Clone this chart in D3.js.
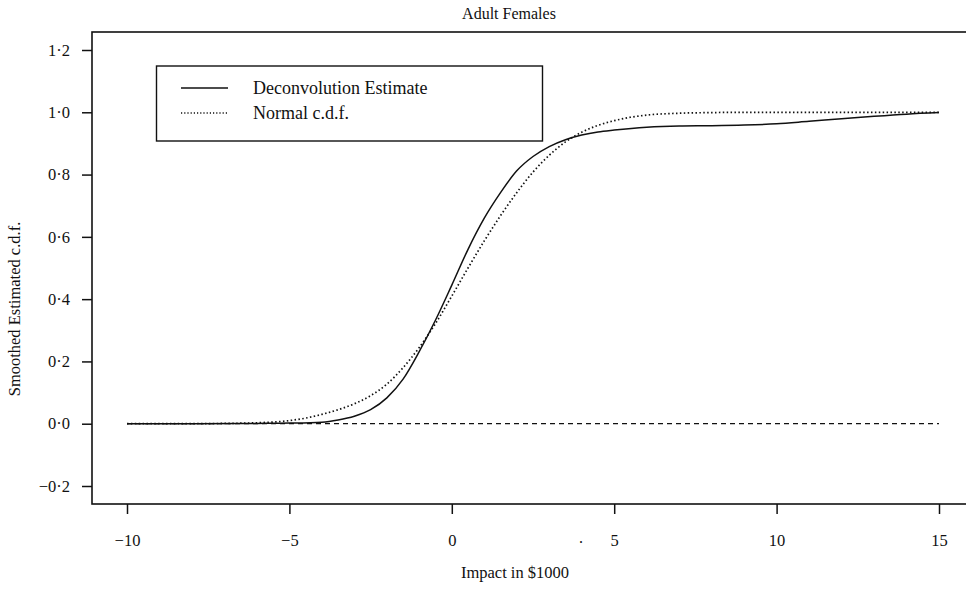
<!DOCTYPE html>
<html>
<head>
<meta charset="utf-8">
<script src="https://cdn.jsdelivr.net/npm/d3@7"></script>
<style>
  body { margin: 0; background: #fff; }
  svg { display: block; font-family: "Liberation Serif", "DejaVu Serif", serif; }
</style>
</head>
<body>
<div id="chart"></div>
<script>
// readings (impact in $1000, smoothed c.d.f.)
var deconX = [-10, -8, -6, -5, -4, -3.5, -3, -2.5, -2, -1.5, -1, -0.5, 0, 0.5, 1, 1.5, 2, 2.5, 3, 3.5, 4, 4.5, 5, 6, 7, 8, 9, 10, 11, 12, 13, 14, 15];
var deconY = [0, 0, 0.001, 0.002, 0.005, 0.012, 0.024, 0.045, 0.083, 0.143, 0.232, 0.333, 0.445, 0.56, 0.66, 0.742, 0.812, 0.858, 0.89, 0.912, 0.927, 0.937, 0.943, 0.952, 0.956, 0.957, 0.959, 0.963, 0.971, 0.979, 0.987, 0.994, 0.999];

var normX = [-10, -8, -7, -6, -5, -4.5, -4, -3.5, -3, -2.5, -2, -1.5, -1, -0.5, 0, 0.5, 1, 1.5, 2, 2.5, 3, 3.5, 4, 4.5, 5, 5.5, 6, 7, 8, 9, 10, 12, 15];
var normY = [0, 0, 0.001, 0.003, 0.01, 0.018, 0.03, 0.045, 0.064, 0.09, 0.127, 0.18, 0.245, 0.322, 0.41, 0.5, 0.587, 0.668, 0.742, 0.808, 0.862, 0.905, 0.936, 0.958, 0.973, 0.984, 0.991, 0.997, 0.999, 1, 1, 1, 1];

var zeroX = [-10, 15];
var zeroY = [0, 0];

var xTicks = [-10, -5, 0, 5, 10, 15];
var yTicks = [-0.2, 0, 0.2, 0.4, 0.6, 0.8, 1.0, 1.2];
var legendLabels = ["Deconvolution Estimate", "Normal c.d.f."];

function zip(a, b) { return a.map(function(v, i) { return [v, b[i]]; }); }

var width = 966, height = 594;

var svg = d3.select('#chart')
  .append('svg')
  .attr('width', width)
  .attr('height', height);

var x = d3.scaleLinear().domain([-10, 15]).range([127, 939]);
var y = d3.scaleLinear().domain([-0.2, 1.2]).range([486, 50]);

// frame (right side runs off the page)
svg.append('rect')
  .attr('x', 92).attr('y', 32)
  .attr('width', 900).attr('height', 472)
  .attr('fill', 'none')
  .attr('stroke', '#111')
  .attr('stroke-width', 1.6);

function fmt(d) {
  var s = d3.format('.1f')(Math.abs(d)).replace('.', '\u00b7');
  return (d < 0 ? '\u2212' : '') + s;
}

var yAxis = svg.append('g')
  .attr('transform', 'translate(92,0)')
  .call(d3.axisLeft(y).tickValues(yTicks).tickFormat(fmt).tickSize(10).tickPadding(12));

var xAxis = svg.append('g')
  .attr('transform', 'translate(0,504)')
  .call(d3.axisBottom(x).tickValues(xTicks)
    .tickFormat(function(d) { return d < 0 ? '\u2212' + Math.abs(d) : d; })
    .tickSize(10).tickPadding(20));

[yAxis, xAxis].forEach(function(g) {
  g.select('.domain').remove();
  g.selectAll('line').attr('stroke', '#111').attr('stroke-width', 1.5);
  g.selectAll('text')
    .attr('fill', '#111')
    .style('font-family', '"Liberation Serif", serif')
    .style('font-size', '16.5px');
});

var line = d3.line()
  .x(function(d) { return x(d[0]); })
  .y(function(d) { return y(d[1]); })
  .curve(d3.curveMonotoneX);

svg.append('path')
  .attr('d', line(zip(zeroX, zeroY)))
  .attr('fill', 'none')
  .attr('stroke', '#111')
  .attr('stroke-width', 1.2)
  .attr('stroke-dasharray', '5,4');

svg.append('path')
  .attr('d', line(zip(normX, normY)))
  .attr('fill', 'none')
  .attr('stroke', '#111')
  .attr('stroke-width', 1.7)
  .attr('stroke-dasharray', '1.5,2.4');

svg.append('path')
  .attr('d', line(zip(deconX, deconY)))
  .attr('fill', 'none')
  .attr('stroke', '#111')
  .attr('stroke-width', 1.5);

// legend
var legend = svg.append('g');
legend.append('rect')
  .attr('x', 156.5).attr('y', 66)
  .attr('width', 386).attr('height', 75)
  .attr('fill', '#fff')
  .attr('stroke', '#111')
  .attr('stroke-width', 1.4);

var item = legend.selectAll('.legend')
  .data(legendLabels)
  .enter()
  .append('g')
  .attr('class', 'legend')
  .attr('transform', function(d, i) { return 'translate(0,' + (88 + i * 25) + ')'; });

item.append('line')
  .attr('x1', 181).attr('x2', 228)
  .attr('stroke', '#111')
  .attr('stroke-width', function(d, i) { return i ? 1.3 : 1.5; })
  .attr('stroke-dasharray', function(d, i) { return i ? '1.2,2' : null; });

item.append('text')
  .attr('x', 253)
  .attr('dy', '.35em')
  .attr('fill', '#111')
  .style('font-size', '18px')
  .text(function(d) { return d; });

// titles
svg.append('text')
  .attr('x', 509).attr('y', 19)
  .attr('text-anchor', 'middle')
  .style('font-size', '16px')
  .attr('fill', '#111')
  .text('Adult Females');

svg.append('text')
  .attr('x', 515).attr('y', 578)
  .attr('text-anchor', 'middle')
  .style('font-size', '16.5px')
  .attr('fill', '#111')
  .text('Impact in $1000');

svg.append('text')
  .attr('transform', 'translate(20,309) rotate(-90)')
  .attr('text-anchor', 'middle')
  .style('font-size', '16.5px')
  .attr('fill', '#111')
  .text('Smoothed Estimated c.d.f.');

// stray dot printed between the 0 and 5 labels
svg.append('text')
  .attr('x', 579).attr('y', 543)
  .style('font-size', '16px')
  .attr('fill', '#111')
  .text('.');
</script>
</body>
</html>
